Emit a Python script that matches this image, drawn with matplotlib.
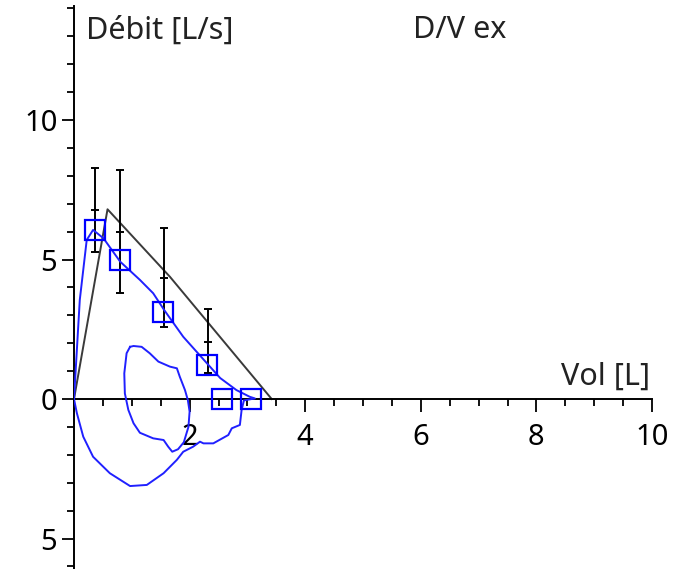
import matplotlib
matplotlib.use("Agg")
import matplotlib.pyplot as plt
from matplotlib.ticker import FixedLocator, MultipleLocator

plt.rcParams['font.family'] = ['Noto Sans', 'DejaVu Sans']

# Measured flow-volume loop (big effort): expiration then inspiration
exp_vol = [0, 0.10, 0.22, 0.33, 0.51, 0.80, 1.14, 1.37, 1.56, 1.89, 2.30, 2.53, 2.81, 3.04, 3.13]
exp_flow = [0, 3.55, 5.70, 6.06, 5.76, 4.92, 4.27, 3.79, 3.19, 2.23, 1.28, 0.75, 0.32, 0.08, 0.02]
insp_vol = [2.94, 2.90, 2.87, 2.73, 2.67, 2.41, 2.24, 2.18, 2.06, 1.89, 1.78, 1.55, 1.26, 0.97, 0.62, 0.33, 0.16, 0.05, 0]
insp_flow = [-0.05, -0.39, -0.93, -1.05, -1.29, -1.59, -1.59, -1.53, -1.71, -1.89, -2.18, -2.66, -3.08, -3.12, -2.66, -2.07, -1.35, -0.51, 0]

# Small second loop
small_vol = [0.97, 1.03, 1.17, 1.31, 1.46, 1.66, 1.78, 1.83, 1.92, 1.97, 2.00, 1.98, 1.90, 1.80, 1.70,
             1.63, 1.55, 1.37, 1.14, 1.03, 0.94, 0.88, 0.87, 0.91, 0.97]
small_flow = [1.87, 1.90, 1.87, 1.64, 1.34, 1.16, 1.10, 0.80, 0.32, -0.04, -0.45, -1.00, -1.55, -1.80, -1.89,
              -1.71, -1.47, -1.41, -1.21, -0.87, -0.39, 0.20, 0.92, 1.64, 1.87]

# Square markers
sq_vol = [0.36, 0.80, 1.54, 2.30, 2.56, 3.06]
sq_flow = [6.06, 4.98, 3.12, 1.22, 0.0, 0.0]

# Predicted (black) curve
pred_vol = [0, 0.58, 1.66, 3.42]
pred_flow = [0, 6.8, 4.38, 0]

# Error bars
eb_vol = [0.36, 0.80, 1.56, 2.31]
eb_mid = [6.77, 6.00, 4.35, 2.05]
eb_low = [5.28, 3.79, 2.59, 0.92]
eb_high = [8.28, 8.21, 6.12, 3.21]

y_ticks = [-5, 0, 5, 10]
y_tick_labels = ['5', '0', '5', '10']
x_ticks = [0, 2, 4, 6, 8, 10]
x_tick_labels = ['', '2', '4', '6', '8', '10']

W, H = 686, 569
fig = plt.figure(figsize=(W / 100, H / 100), dpi=100)
x0_px, x10_px = 74, 652
y0_px, y10_px = 399, 120
ax = fig.add_axes([x0_px / W, 0, (x10_px - x0_px) / W, 1])
ax.set_xlim(0, 10)
ppu = (y0_px - y10_px) / 10.0
ax.set_ylim(-(H - y0_px) / ppu, y0_px / ppu)

for s in ['top', 'right']:
    ax.spines[s].set_visible(False)
ax.spines['left'].set_position(('data', 0))
ax.spines['bottom'].set_position(('data', 0))
ax.spines['left'].set_bounds(-6.2, 14.1)
ax.spines['bottom'].set_bounds(0, 10)
for s in ['left', 'bottom']:
    ax.spines[s].set_linewidth(1.4)
    ax.spines[s].set_color('black')

ax.yaxis.set_major_locator(FixedLocator(y_ticks))
ax.set_yticklabels(y_tick_labels)
ax.yaxis.set_minor_locator(MultipleLocator(1))
ax.xaxis.set_major_locator(FixedLocator(x_ticks))
ax.set_xticklabels(x_tick_labels)
ax.xaxis.set_minor_locator(MultipleLocator(0.5))
ax.tick_params(axis='both', which='major', direction='out', length=9, width=1.3, labelsize=21, color='black')
ax.tick_params(axis='both', which='minor', direction='out', length=4.8, width=1.3, color='black')
ax.tick_params(axis='y', which='major', pad=3)
ax.tick_params(axis='x', which='major', pad=8)

# Predicted line
ax.plot(pred_vol, pred_flow, color='#3a3a3a', lw=1.4, zorder=2)
# Error bars
yerr = [[m - l for m, l in zip(eb_mid, eb_low)], [h - m for m, h in zip(eb_mid, eb_high)]]
ax.errorbar(eb_vol, eb_mid, yerr=yerr, fmt='_', color='black', ecolor='black', elinewidth=1.4,
            capsize=3, capthick=1.4, markersize=6, mew=1.4, zorder=3)
# Blue loops
ax.plot(exp_vol + insp_vol, exp_flow + insp_flow, color='#2020ff', lw=1.4, zorder=4)
ax.plot(small_vol, small_flow, color='#2020ff', lw=1.4, zorder=4)
ax.plot(sq_vol, sq_flow, linestyle='none', marker='s', markersize=14, markerfacecolor='none',
        markeredgecolor='#0000ff', markeredgewidth=1.6, zorder=5)

ax.text((86 - x0_px) / (x10_px - x0_px) * 10, (y0_px - 39) / ppu, 'Débit [L/s]', fontsize=22,
        ha='left', va='baseline', color='#222222')
ax.text((413 - x0_px) / (x10_px - x0_px) * 10, (y0_px - 38) / ppu, 'D/V ex', fontsize=22,
        ha='left', va='baseline', color='#222222')
ax.text((650 - x0_px) / (x10_px - x0_px) * 10, (y0_px - 385) / ppu, 'Vol [L]', fontsize=22,
        ha='right', va='baseline', color='#222222')

fig.savefig('out.png', dpi=100)
